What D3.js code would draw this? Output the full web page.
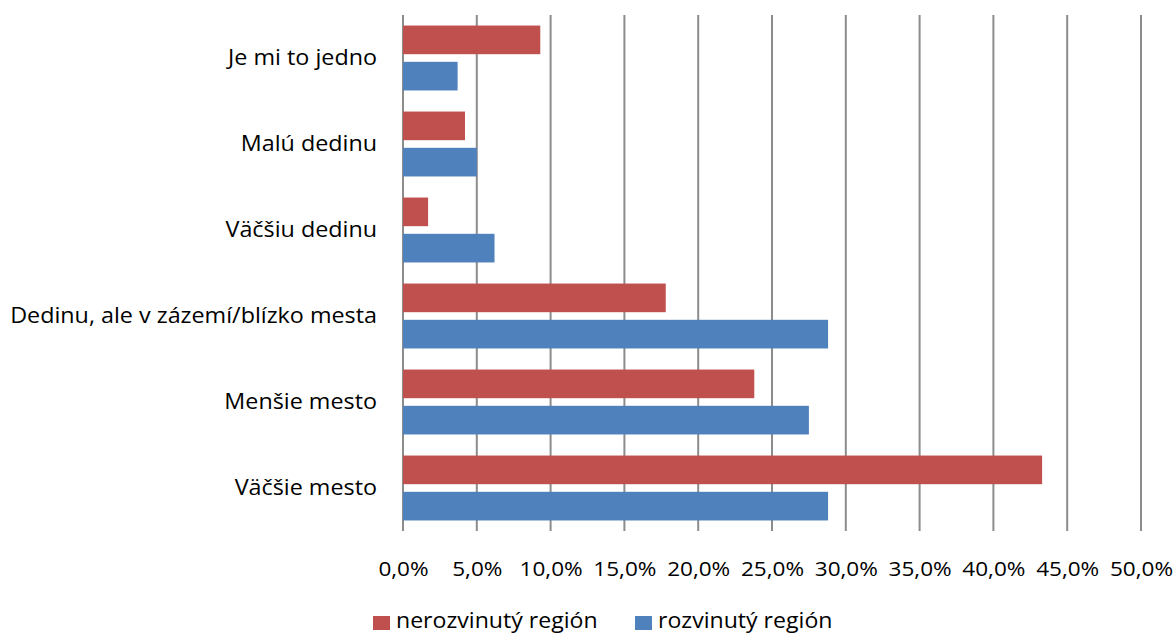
<!DOCTYPE html>
<html>
<head>
<meta charset="utf-8">
<script src="https://cdn.jsdelivr.net/npm/d3@7/dist/d3.min.js"></script>
<style>
  html, body { margin: 0; padding: 0; background: #fff; }
  svg { display: block; }
  text { font-family: "Open Sans", "DejaVu Sans", sans-serif; fill: #000; }
</style>
</head>
<body>
<svg id="chart" width="1176" height="635"></svg>
<script>
// Categories, top to bottom
const categories = [
  "Je mi to jedno",
  "Malú dedinu",
  "Väčšiu dedinu",
  "Dedinu, ale v zázemí/blízko mesta",
  "Menšie mesto",
  "Väčšie mesto"
];
// Series names
const seriesNames = ["nerozvinutý región", "rozvinutý región"];
// Shares in percent
const nerozvinuty = [9.3, 4.2, 1.7, 17.8, 23.8, 43.3];
const rozvinuty   = [3.7, 5.0, 6.2, 28.8, 27.5, 28.8];
// X axis ticks
const tickValues = [0, 5, 10, 15, 20, 25, 30, 35, 40, 45, 50];

const colors = ["#C0504D", "#4F81BD"];
const seriesValues = [nerozvinuty, rozvinuty];

const svg = d3.select("#chart");
const margin = { left: 403, right: 35, top: 15, bottom: 104 };
const W = 1176, H = 635;

const x = d3.scaleLinear().domain([0, 50]).range([margin.left, W - margin.right]);
const y = d3.scaleBand().domain(categories).range([margin.top, H - margin.bottom])
  .paddingInner(0.245).paddingOuter(0.1225);
const ySub = d3.scaleBand().domain([0, 1]).range([0, y.bandwidth()]).paddingInner(0.21);

// Vertical gridlines
svg.append("g").selectAll("line").data(tickValues).join("line")
  .attr("x1", d => x(d)).attr("x2", d => x(d))
  .attr("y1", margin.top).attr("y2", H - margin.bottom)
  .attr("stroke", "#8c8c8c").attr("stroke-width", 2);

// Bars
const groups = svg.append("g").selectAll("g").data(categories).join("g")
  .attr("transform", c => `translate(0,${y(c)})`);
groups.selectAll("rect").data((c, i) => seriesValues.map((vals, s) => ({ s, v: vals[i] })))
  .join("rect")
  .attr("x", x(0))
  .attr("y", d => ySub(d.s))
  .attr("width", d => x(d.v) - x(0))
  .attr("height", ySub.bandwidth())
  .attr("fill", d => colors[d.s]);

// Category labels (slightly widened text)
svg.append("g").selectAll("text").data(categories).join("text")
  .attr("transform", c => `translate(377,${y(c) + y.bandwidth() / 2 + 6.8}) scale(1.085,1)`)
  .attr("text-anchor", "end")
  .style("font-size", "21.5px")
  .text(c => c);

// X axis tick labels
const xAxis = d3.axisBottom(x).tickValues(tickValues).tickSize(0).tickPadding(0)
  .tickFormat(d => d.toFixed(1).replace(".", ",") + "%");
const ax = svg.append("g").attr("transform", `translate(0,576)`).call(xAxis);
ax.select(".domain").remove();
ax.selectAll("text")
  .attr("y", 0).attr("dy", null)
  .attr("transform", "scale(1.1,1)")
  .style("font-size", "20.5px")
  .style("font-family", "\"Open Sans\", sans-serif")
  .attr("fill", "#000");

// Legend
const legendX = [373, 635];
const legend = svg.append("g").selectAll("g").data(seriesNames).join("g")
  .attr("transform", (d, i) => `translate(${legendX[i]},616)`);
legend.append("rect").attr("width", 17).attr("height", 14).attr("fill", (d, i) => colors[i]);
legend.append("text")
  .attr("transform", "translate(23,12) scale(1.1,1)")
  .style("font-size", "21px").text(d => d);
</script>
</body>
</html>
